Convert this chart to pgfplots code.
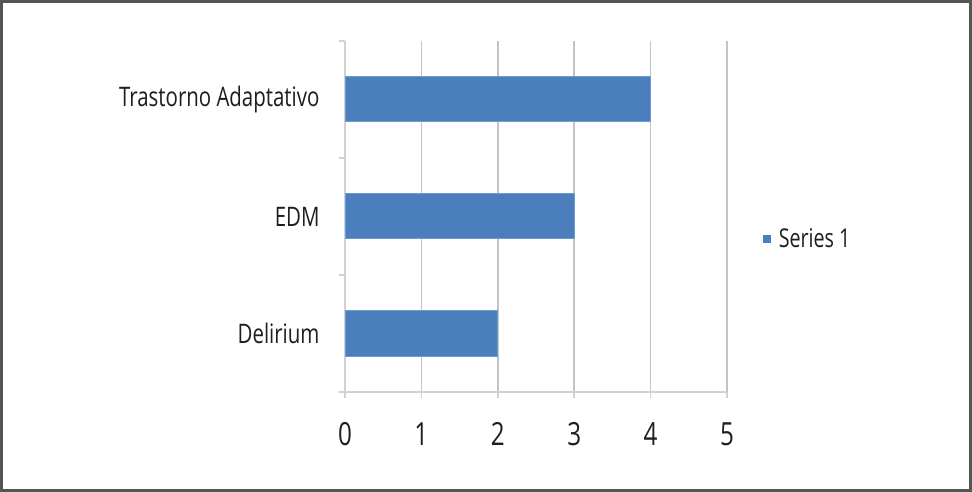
\documentclass[border=0pt]{standalone}
\usepackage{fontspec}
\setmainfont{Open Sans}[FakeStretch=0.76]
\usepackage{pgfplots}
\pgfplotsset{compat=1.18}
\definecolor{barblue}{RGB}{74,126,188}
\definecolor{baredge}{RGB}{110,155,210}
\definecolor{gridgray}{RGB}{195,195,195}
\definecolor{axgray}{RGB}{210,210,210}
\definecolor{framegray}{RGB}{85,85,85}
\definecolor{textgray}{RGB}{30,30,30}
\begin{document}
\begin{tikzpicture}
\useasboundingbox (0bp,0bp) rectangle (972bp,492bp);
\fill[white] (0bp,0bp) rectangle (972bp,492bp);
\begin{axis}[
  at={(345bp,100bp)}, anchor=south west,
  scale only axis, width=382bp, height=351bp,
  xbar, bar width=45bp,
  xmin=0, xmax=5, ymin=0.5, ymax=3.5,
  xtick={0,1,2,3,4,5},
  ytick={1,2,3},
  yticklabels={Delirium,EDM,Trastorno Adaptativo},
  minor ytick={0.5,1.5,2.5,3.5},
  axis x line*=bottom, axis y line*=left,
  axis line style={axgray, line width=1.5bp, -},
  xmajorgrids, major grid style={gridgray, line width=1.5bp},
  tick align=outside,
  major tick length=6bp, minor tick length=6bp,
  major x tick style={axgray, line width=1.5bp},
  major y tick style={draw=none},
  minor y tick style={axgray, line width=1.5bp},
  /pgf/number format/assume math mode=true,
  ticklabel style={text=textgray},
  xticklabel style={font=\fontsize{32}{32}\selectfont, yshift=-21bp},
  yticklabel style={font=\fontsize{27}{27}\selectfont, xshift=-16bp},
  legend style={at={(1.085,0.436)}, anchor=west, draw=none, fill=none,
    font=\fontsize{26}{26}\selectfont, text=textgray},
  legend image code/.code={\fill[barblue, draw=none] (0bp,-4bp) rectangle (8bp,4bp);\path[draw=none, fill=none] (14bp,0bp) circle (0.1bp);},
]
\addplot[fill=barblue, draw=baredge, line width=1bp] coordinates {(2,1) (3,2) (4,3)};
\addlegendentry{Series 1}
\end{axis}
\draw[framegray, line width=3bp] (1.5bp,1.5bp) rectangle (970.5bp,490.5bp);
\end{tikzpicture}
\end{document}
